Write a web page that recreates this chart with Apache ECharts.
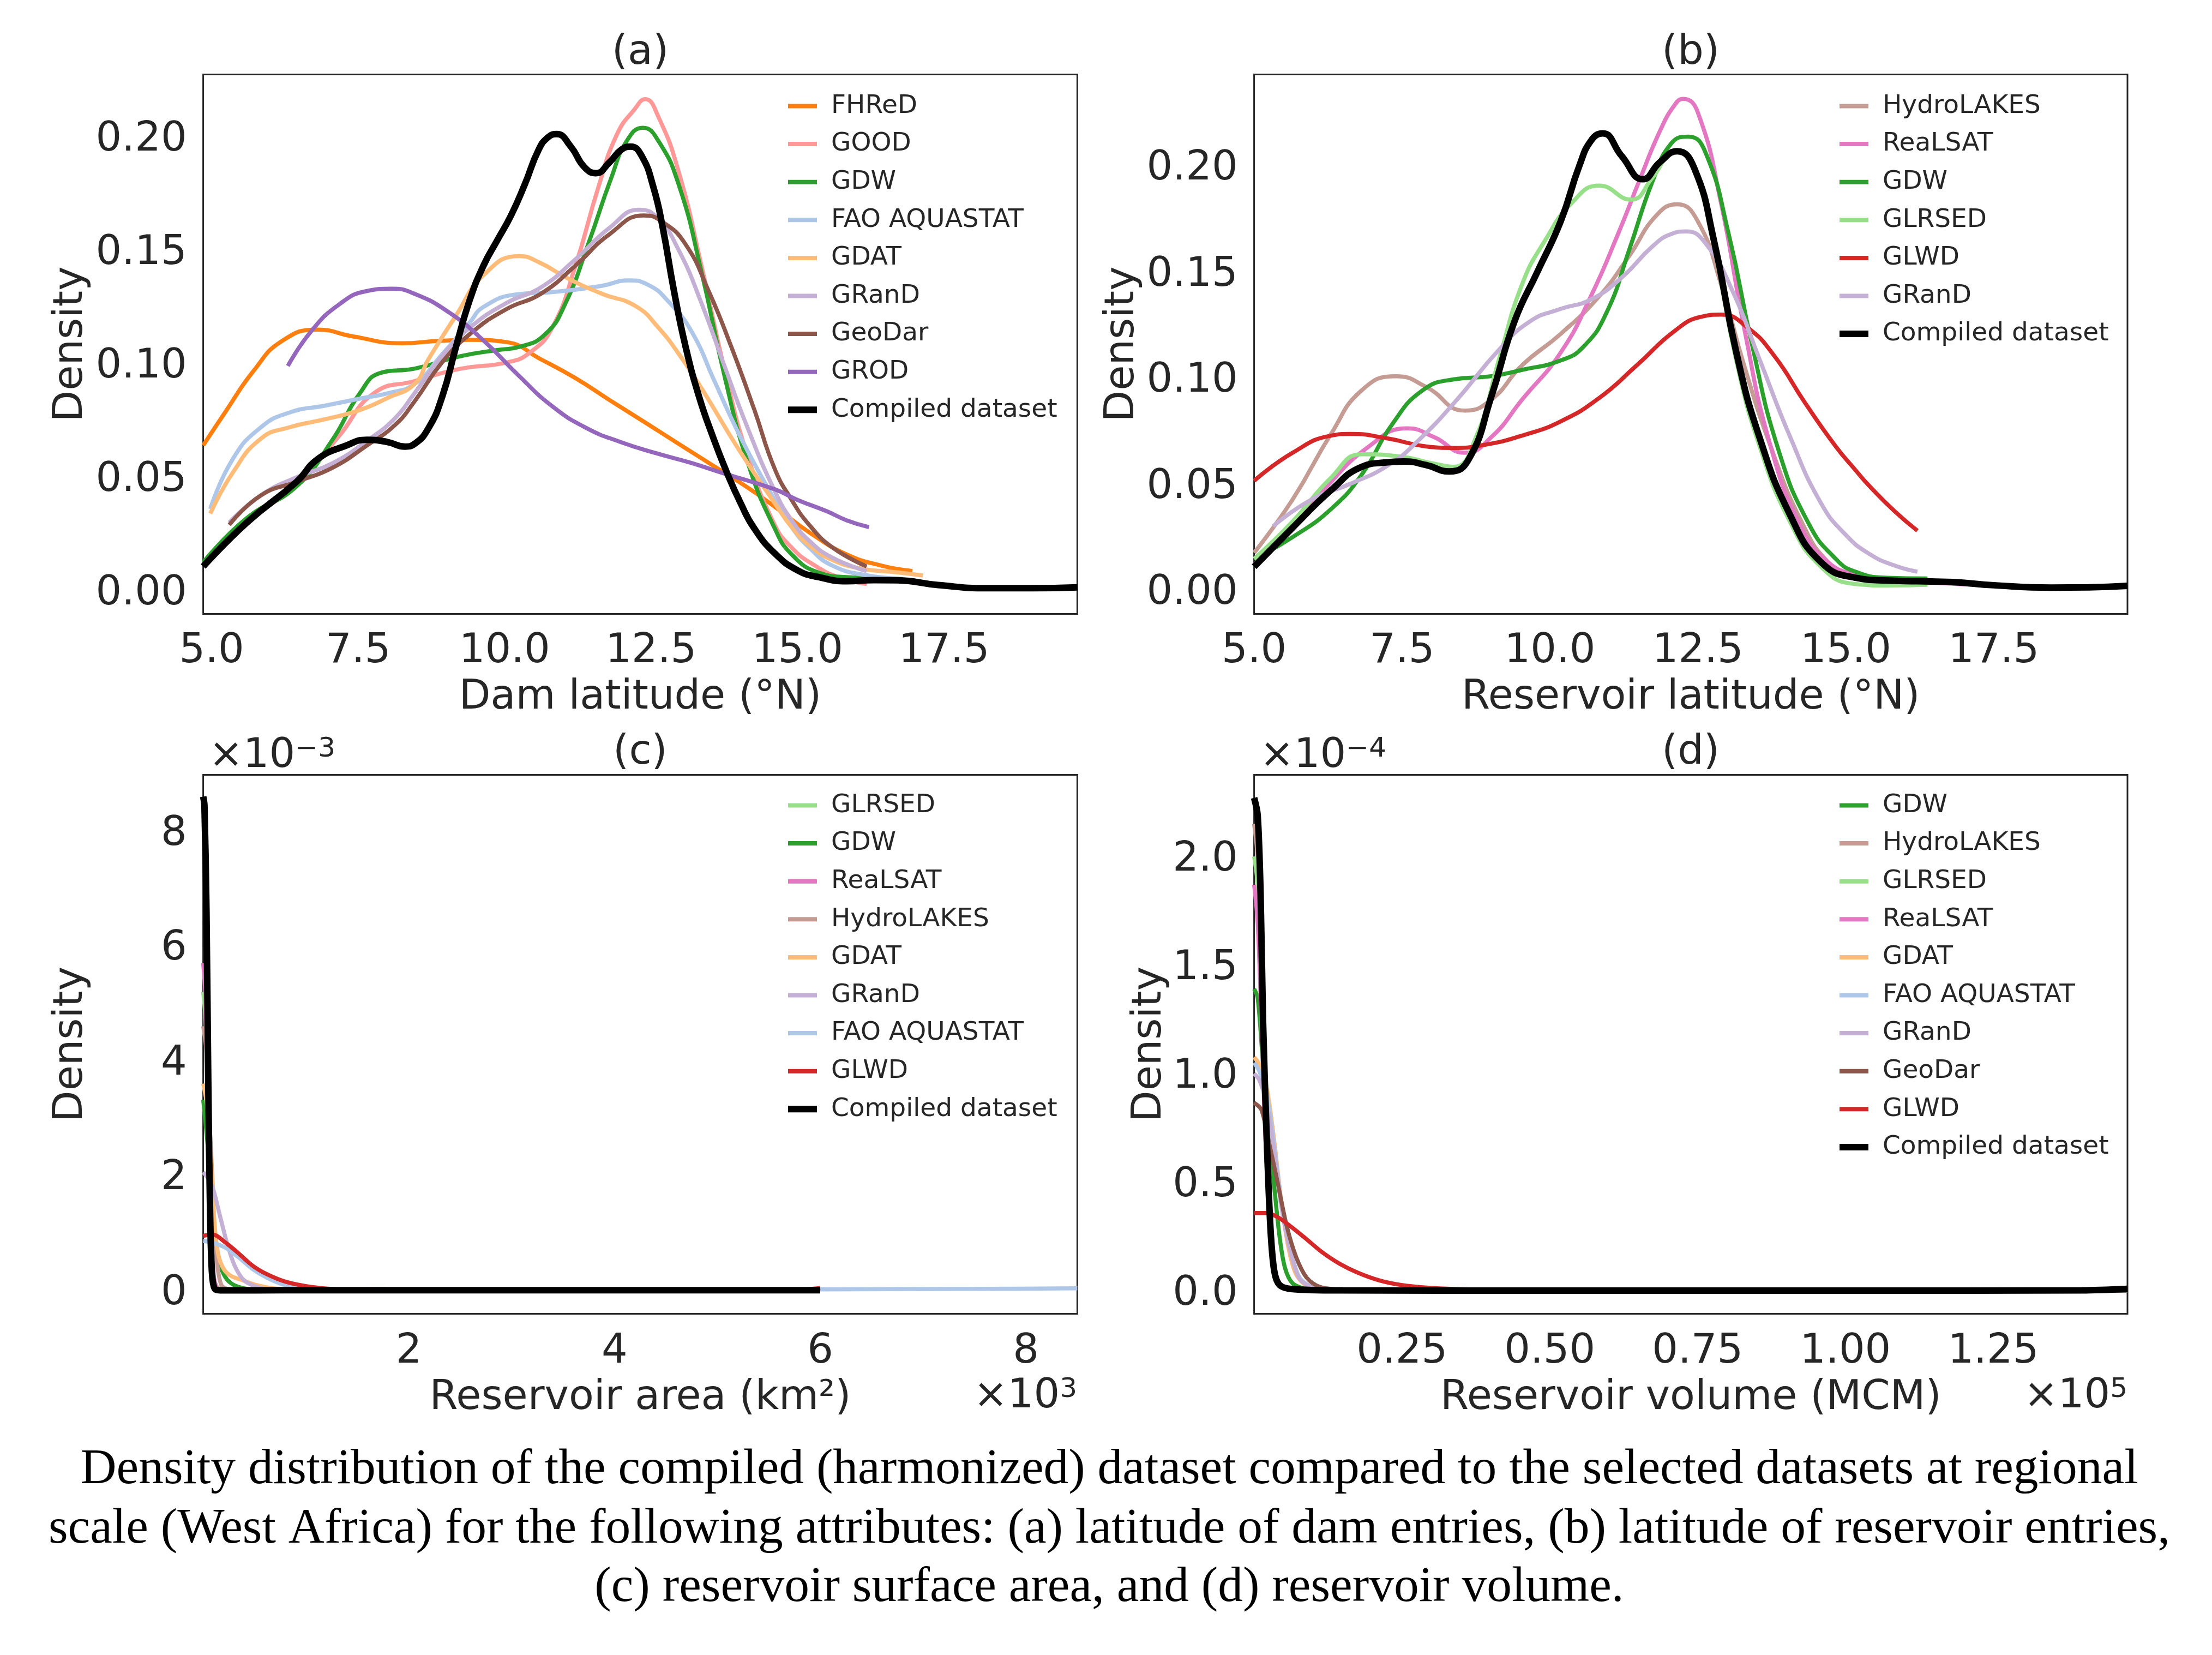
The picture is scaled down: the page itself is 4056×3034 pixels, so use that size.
<!DOCTYPE html>
<html>
<head>
<meta charset="utf-8">
<script src="https://cdn.jsdelivr.net/npm/echarts@6/dist/echarts.min.js"></script>
<style>
  html, body { margin: 0; padding: 0; background: #fff; }
  #chart { width: 4056px; height: 3034px; }
</style>
</head>
<body>
<div id="chart"></div>
<script>
// ---- (a) dam latitude, [lat °N, density] ----
const damFHReD = [[4.855,0.064],[5.24,0.079],[5.72,0.097],[6.2,0.110],[6.81,0.115],[7.41,0.112],[8.25,0.109],[8.85,0.110],[9.44,0.1105],[10.03,0.1095],[10.62,0.1019],[11.21,0.0936],[11.79,0.084],[12.38,0.0744],[12.97,0.0647],[13.56,0.0551],[14.15,0.0454],[14.61,0.037],[15.24,0.025],[15.84,0.016],[16.44,0.011],[16.96,0.0087]];
const damGOOD = [[4.855,0.011],[5.6,0.030],[6.45,0.047],[7.17,0.068],[7.77,0.087],[8.46,0.0923],[9.25,0.0978],[10.03,0.1005],[10.42,0.1047],[10.81,0.1157],[11.21,0.1432],[11.6,0.1777],[11.92,0.2011],[12.22,0.2121],[12.4,0.2165],[12.62,0.209],[12.97,0.1846],[13.36,0.1432],[13.75,0.0978],[14.15,0.0592],[14.61,0.029],[14.9,0.019],[15.24,0.012],[15.72,0.0057],[16.18,0.003]];
const damGDW = [[4.855,0.0125],[5.6,0.032],[6.45,0.046],[7.05,0.066],[7.53,0.087],[7.89,0.096],[8.46,0.0978],[9.25,0.1033],[9.87,0.106],[10.25,0.1074],[10.69,0.1129],[11.04,0.1267],[11.43,0.1529],[11.82,0.1818],[12.09,0.1983],[12.36,0.2039],[12.62,0.1983],[12.97,0.179],[13.36,0.1405],[13.75,0.095],[14.15,0.0564],[14.61,0.0275],[14.9,0.016],[15.36,0.008],[15.84,0.006],[16.18,0.0057]];
const damFAO = [[4.976,0.036],[5.36,0.058],[5.84,0.072],[6.33,0.0785],[6.93,0.0815],[7.53,0.0846],[8.01,0.087],[8.46,0.091],[8.93,0.104],[9.4,0.118],[9.64,0.125],[10.2,0.1305],[10.81,0.1315],[11.66,0.1343],[12.12,0.1367],[12.43,0.135],[12.82,0.1267],[13.22,0.1129],[13.56,0.0936],[14.03,0.0675],[14.61,0.040],[14.9,0.028],[15.2,0.019],[15.6,0.011],[16.2,0.0067],[16.8,0.0053]];
const damGDAT = [[4.976,0.034],[5.36,0.052],[5.84,0.067],[6.33,0.072],[6.93,0.0755],[7.53,0.0796],[8.01,0.085],[8.46,0.091],[8.7,0.102],[9.17,0.1212],[9.64,0.139],[10.25,0.1474],[10.6,0.1445],[11.07,0.1377],[11.66,0.1308],[12.24,0.1253],[12.63,0.1157],[13.0,0.1033],[13.39,0.088],[13.97,0.0633],[14.61,0.0386],[14.9,0.028],[15.2,0.020],[15.6,0.0135],[16.1,0.0097],[16.7,0.0081],[17.14,0.0067]];
const damGRanD = [[5.3,0.030],[5.84,0.042],[6.45,0.050],[7.05,0.056],[7.65,0.066],[8.13,0.076],[8.46,0.0869],[8.93,0.1033],[9.4,0.1157],[10.03,0.1267],[10.62,0.1336],[11.21,0.146],[11.79,0.1598],[12.3,0.1678],[12.62,0.1639],[12.97,0.1501],[13.36,0.1267],[13.75,0.0992],[14.15,0.0716],[14.61,0.044],[14.9,0.031],[15.2,0.022],[15.6,0.0145],[16.18,0.0087]];
const damGeoDar = [[5.3,0.029],[5.84,0.042],[6.45,0.048],[7.05,0.054],[7.65,0.064],[8.13,0.073],[8.46,0.0833],[8.93,0.1005],[9.4,0.1129],[10.03,0.124],[10.62,0.1308],[11.21,0.1432],[11.79,0.157],[12.38,0.1653],[12.69,0.1625],[13.08,0.1529],[13.48,0.1322],[13.87,0.1074],[14.26,0.0799],[14.61,0.0537],[14.9,0.040],[15.2,0.029],[15.6,0.019],[16.18,0.0107]];
const damGROD = [[6.3,0.099],[6.69,0.114],[7.17,0.126],[7.65,0.132],[8.07,0.133],[8.46,0.1308],[9.05,0.1226],[9.64,0.1102],[10.23,0.095],[10.81,0.0813],[11.4,0.0716],[11.99,0.0654],[12.58,0.0606],[13.17,0.0564],[13.75,0.0516],[14.61,0.0447],[15.0,0.040],[15.5,0.035],[15.84,0.031],[16.22,0.028]];
const damCompiled = [[4.855,0.0107],[5.6,0.030],[6.45,0.048],[6.81,0.058],[7.3,0.064],[7.65,0.0665],[8.0,0.0655],[8.3,0.0635],[8.464,0.0647],[8.7,0.0716],[8.934,0.0854],[9.17,0.1074],[9.404,0.128],[9.64,0.1432],[9.874,0.1543],[10.11,0.1653],[10.345,0.179],[10.58,0.1942],[10.74,0.1997],[10.89,0.2011],[11.13,0.1956],[11.36,0.1866],[11.56,0.1839],[11.79,0.1887],[11.99,0.1942],[12.15,0.1956],[12.34,0.1915],[12.54,0.1777],[12.7,0.1598],[12.89,0.1322],[13.09,0.1074],[13.32,0.0854],[13.56,0.0675],[13.79,0.0523],[14.03,0.0385],[14.26,0.0275],[14.61,0.0165],[15.0,0.009],[15.36,0.006],[15.84,0.0042],[16.3,0.0047],[16.7,0.0046],[17.4,0.0025],[18.25,0.0011],[19.0,0.0011],[19.776,0.0015]];

// ---- (b) reservoir latitude ----
const resHydroLAKES = [[5.0,0.0176],[5.65,0.0427],[6.3,0.0736],[6.82,0.0942],[7.4,0.1008],[7.91,0.0957],[8.56,0.0846],[9.01,0.0898],[9.53,0.106],[10.18,0.1207],[10.83,0.1384],[11.34,0.1575],[11.8,0.1766],[12.15,0.1818],[12.5,0.1737],[12.89,0.1442],[13.28,0.106],[13.73,0.0677],[14.25,0.0323],[14.7,0.0132],[15.15,0.0059],[15.7,0.0042],[16.2,0.0035]];
const resReaLSAT = [[5.0,0.012],[5.6,0.029],[6.17,0.0471],[6.94,0.0677],[7.59,0.0762],[8.04,0.0721],[8.56,0.0647],[9.01,0.0721],[9.53,0.0898],[10.18,0.1119],[10.69,0.1384],[11.15,0.1678],[11.53,0.1943],[11.86,0.2164],[12.11,0.2287],[12.25,0.2315],[12.5,0.225],[12.89,0.1825],[13.28,0.1237],[13.73,0.0677],[14.25,0.0294],[14.7,0.0132],[15.15,0.0074],[15.7,0.0048],[16.2,0.004],[17.5,0.002],[18.5,0.001],[19.76,0.0018]];
const resGDW = [[5.0,0.0147],[5.65,0.025],[6.3,0.0382],[6.82,0.0545],[7.33,0.078],[7.85,0.0942],[8.37,0.0993],[9.01,0.1008],[9.53,0.1038],[10.18,0.1082],[10.57,0.1148],[10.96,0.131],[11.34,0.1604],[11.73,0.1924],[12.05,0.2105],[12.34,0.2137],[12.63,0.2061],[13.02,0.1678],[13.41,0.1163],[13.86,0.0662],[14.38,0.0309],[14.83,0.0147],[15.15,0.0088],[15.7,0.0058],[16.38,0.0055]];
const resGLRSED = [[5.0,0.0147],[5.65,0.0323],[6.3,0.053],[6.82,0.064],[7.46,0.063],[8.04,0.0596],[8.37,0.0581],[8.75,0.0721],[9.14,0.1089],[9.53,0.1442],[9.92,0.1649],[10.37,0.1825],[10.83,0.1906],[11.37,0.184],[11.73,0.1943],[12.05,0.2061],[12.2,0.207],[12.44,0.198],[12.77,0.162],[13.15,0.108],[13.54,0.068],[14.06,0.032],[14.58,0.011],[15.15,0.0029],[15.7,0.0022],[16.38,0.0025]];
const resGLWD = [[5.0,0.0515],[5.65,0.0647],[6.3,0.0728],[6.62,0.0736],[7.27,0.0714],[7.91,0.0677],[8.37,0.067],[8.88,0.0684],[9.53,0.0728],[10.18,0.0795],[10.83,0.0905],[11.47,0.106],[12.11,0.1222],[12.56,0.1288],[12.89,0.1298],[13.34,0.1237],[13.79,0.1104],[14.31,0.0883],[14.83,0.0677],[15.15,0.057],[15.4,0.049],[15.83,0.037],[16.21,0.028]];
const resGRanD = [[5.32,0.0301],[5.97,0.0427],[6.62,0.05],[7.27,0.0589],[7.78,0.0706],[8.43,0.0898],[9.14,0.1133],[9.66,0.1266],[10.18,0.1325],[10.69,0.1369],[11.21,0.1472],[11.73,0.1619],[12.05,0.1678],[12.3,0.169],[12.63,0.1634],[13.08,0.1413],[13.54,0.1089],[14.06,0.0721],[14.58,0.041],[15.0,0.026],[15.4,0.017],[15.83,0.0115],[16.21,0.0087]];
const resCompiled = [[5.0,0.011],[5.65,0.0294],[6.3,0.0471],[6.82,0.0581],[7.2,0.0601],[7.53,0.0606],[7.91,0.0589],[8.3,0.0559],[8.63,0.0618],[9.01,0.0913],[9.4,0.1266],[9.79,0.1501],[10.18,0.1737],[10.5,0.2002],[10.7,0.212],[10.89,0.2152],[11.21,0.2046],[11.57,0.1936],[11.86,0.2017],[12.15,0.2068],[12.44,0.1987],[12.77,0.1649],[13.15,0.1119],[13.54,0.0721],[14.06,0.0353],[14.58,0.0132],[15.15,0.0059],[15.7,0.0045],[16.2,0.0042],[16.8,0.0038],[17.5,0.0023],[18.47,0.0012],[19.1,0.0013],[19.76,0.002]];

// ---- (c) reservoir area, x in 10^3 km2, density in 10^-3 ----
const areaGLRSED = [[0,5.2],[0.02,4.8],[0.04,3.6],[0.06,2.0],[0.08,0.8],[0.1,0.25],[0.14,0.05],[0.25,0.01],[1,0.003],[6,0.002]];
const areaGDW = [[0,3.32],[0.041,2.58],[0.076,1.66],[0.11,0.86],[0.165,0.43],[0.235,0.18],[0.34,0.06],[0.52,0.01],[1,0.003],[6,0.002]];
const areaReaLSAT = [[0,5.7],[0.02,5.2],[0.04,3.8],[0.06,2.2],[0.08,0.9],[0.1,0.3],[0.13,0.06],[0.2,0.01],[1,0.002],[6,0.002]];
const areaHydroLAKES = [[0,4.6],[0.03,4.2],[0.06,3.0],[0.09,1.9],[0.11,1.0],[0.14,0.4],[0.18,0.08],[0.25,0.02],[0.5,0.005],[6,0.002]];
const areaGDAT = [[0,3.6],[0.04,3.2],[0.076,2.28],[0.11,1.17],[0.147,0.62],[0.2,0.37],[0.27,0.25],[0.377,0.18],[0.52,0.09],[0.7,0.03],[1.0,0.01],[1.4,0.005],[1.65,0.02],[1.78,0.025]];
const areaGRanD = [[0,2.06],[0.04,1.97],[0.094,1.78],[0.164,1.29],[0.235,0.8],[0.306,0.43],[0.394,0.18],[0.52,0.06],[0.66,0.01],[1,0.003],[6,0.002]];
const areaFAO = [[0,0.86],[0.094,0.83],[0.218,0.74],[0.34,0.58],[0.48,0.37],[0.62,0.22],[0.8,0.09],[1.05,0.03],[1.5,0.01],[3,0.005],[6,0.016],[7.5,0.025],[8.5,0.035]];
const areaGLWD = [[0,0.95],[0.094,0.97],[0.218,0.83],[0.34,0.65],[0.48,0.43],[0.62,0.28],[0.8,0.15],[1.05,0.06],[1.4,0.01],[2,0.003],[4,0.002],[5.8,0.01],[6,0.04]];
const areaCompiled = [[0,8.6],[0.012,8.45],[0.032,6.58],[0.05,3.5],[0.067,1.35],[0.085,0.31],[0.111,0.03],[0.165,0.0],[0.5,0.0],[1,0.003],[2,0.002],[3,0.002],[4,0.002],[5,0.002],[6,0.003]];

// ---- (d) reservoir volume, x in 10^5 MCM, density in 10^-4 ----
const volGDW = [[0,1.39],[0.006,1.35],[0.0138,1.09],[0.023,0.77],[0.034,0.48],[0.043,0.25],[0.052,0.108],[0.065,0.035],[0.09,0.008],[0.15,0.002],[1.477,0.001]];
const volHydroLAKES = [[0,2.15],[0.006,2.0],[0.011,1.65],[0.016,1.1],[0.022,0.6],[0.028,0.25],[0.035,0.08],[0.045,0.02],[0.07,0.004],[1.477,0.001]];
const volGLRSED = [[0,2.0],[0.005,1.9],[0.01,1.6],[0.015,1.1],[0.02,0.65],[0.026,0.3],[0.033,0.1],[0.045,0.02],[0.08,0.003],[1.477,0.001]];
const volReaLSAT = [[0,1.87],[0.006,1.7],[0.0123,1.25],[0.018,0.77],[0.026,0.37],[0.034,0.124],[0.043,0.035],[0.058,0.008],[0.1,0.001],[1.477,0.001]];
const volGDAT = [[0,1.076],[0.009,1.04],[0.0215,0.93],[0.034,0.69],[0.046,0.41],[0.058,0.2],[0.071,0.076],[0.09,0.02],[0.11,0.003],[1.477,0.001]];
const volFAO = [[0,1.05],[0.009,1.01],[0.0215,0.9],[0.034,0.67],[0.046,0.41],[0.0615,0.19],[0.077,0.06],[0.1,0.015],[0.13,0.003],[1.477,0.001]];
const volGRanD = [[0,1.0],[0.009,0.97],[0.0215,0.86],[0.034,0.64],[0.046,0.39],[0.0615,0.18],[0.077,0.055],[0.1,0.014],[0.13,0.003],[1.477,0.001]];
const volGeoDar = [[0,0.866],[0.0123,0.834],[0.0246,0.69],[0.04,0.495],[0.055,0.30],[0.071,0.156],[0.089,0.06],[0.11,0.019],[0.141,0.006],[0.19,0.001],[1.477,0.001]];
const volGLWD = [[0,0.358],[0.0215,0.358],[0.043,0.334],[0.065,0.29],[0.089,0.237],[0.114,0.18],[0.145,0.124],[0.175,0.084],[0.212,0.048],[0.249,0.027],[0.295,0.0145],[0.372,0.006],[0.5,0.003],[1.0,0.002],[1.4,0.004],[1.477,0.015]];
const volCompiled = [[0,2.27],[0.006,2.19],[0.011,1.82],[0.015,1.25],[0.0215,0.69],[0.0277,0.285],[0.034,0.092],[0.043,0.027],[0.065,0.008],[0.15,0.002],[0.5,0.001],[1.0,0.001],[1.4,0.002],[1.477,0.009]];

const captionLines = [
  'Density distribution of the compiled (harmonized) dataset compared to the selected datasets at regional',
  'scale (West Africa) for the following attributes: (a) latitude of dam entries, (b) latitude of reservoir entries,',
  '(c) reservoir surface area, and (d) reservoir volume.'
];

const colors = {
  'FHReD': '#ff7f0e', 'GOOD': '#ff9896', 'GDW': '#2ca02c', 'FAO AQUASTAT': '#aec7e8',
  'GDAT': '#ffbb78', 'GRanD': '#c5b0d5', 'GeoDar': '#8c564b', 'GROD': '#9467bd',
  'HydroLAKES': '#c49c94', 'ReaLSAT': '#e377c2', 'GLRSED': '#98df8a', 'GLWD': '#d62728',
  'Compiled dataset': '#000000'
};

const panels = [
  { smooth: 0.5, series: [['FHReD', damFHReD], ['GOOD', damGOOD], ['GDW', damGDW], ['FAO AQUASTAT', damFAO], ['GDAT', damGDAT],
             ['GRanD', damGRanD], ['GeoDar', damGeoDar], ['GROD', damGROD], ['Compiled dataset', damCompiled]] },
  { smooth: 0.5, series: [['HydroLAKES', resHydroLAKES], ['ReaLSAT', resReaLSAT], ['GDW', resGDW], ['GLRSED', resGLRSED],
             ['GLWD', resGLWD], ['GRanD', resGRanD], ['Compiled dataset', resCompiled]] },
  { smooth: 0.3, series: [['GLRSED', areaGLRSED], ['GDW', areaGDW], ['ReaLSAT', areaReaLSAT], ['HydroLAKES', areaHydroLAKES],
             ['GDAT', areaGDAT], ['GRanD', areaGRanD], ['FAO AQUASTAT', areaFAO], ['GLWD', areaGLWD], ['Compiled dataset', areaCompiled]] },
  { smooth: 0.3, series: [['GDW', volGDW], ['HydroLAKES', volHydroLAKES], ['GLRSED', volGLRSED], ['ReaLSAT', volReaLSAT],
             ['GDAT', volGDAT], ['FAO AQUASTAT', volFAO], ['GRanD', volGRanD], ['GeoDar', volGeoDar], ['GLWD', volGLWD], ['Compiled dataset', volCompiled]] }
];

const FONT = 'DejaVu Sans';
const TXT = '#262626';

const grids = [
  { left: 372.6, top: 136.4, width: 1602.8, height: 989 },
  { left: 2299.6, top: 136.4, width: 1601.4, height: 989 },
  { left: 372.6, top: 1420.4, width: 1602.8, height: 988.2 },
  { left: 2299.6, top: 1420.4, width: 1601.4, height: 988.2 }
].map(g => Object.assign(g, { show: true, borderColor: '#262626', borderWidth: 3, backgroundColor: 'transparent' }));

function xAxis(i, min, max, step, name, fmt, showMin) {
  return {
    type: 'value', gridIndex: i, min: min, max: max, minInterval: step, maxInterval: step, splitNumber: 6,
    name: name, nameLocation: 'middle', nameGap: 117,
    nameTextStyle: { fontFamily: FONT, fontSize: 75, color: TXT },
    axisLine: { show: false }, axisTick: { show: false }, splitLine: { show: false },
    axisLabel: { fontFamily: FONT, fontSize: 75, color: TXT, margin: 32, formatter: fmt,
                 showMinLabel: !!showMin, showMaxLabel: false }
  };
}
function yAxis(i, min, max, step, gap, fmt) {
  return {
    type: 'value', gridIndex: i, min: min, max: max, minInterval: step, maxInterval: step, splitNumber: 5,
    name: 'Density', nameLocation: 'middle', nameGap: gap,
    nameTextStyle: { fontFamily: FONT, fontSize: 75, color: TXT },
    axisLine: { show: false }, axisTick: { show: false }, splitLine: { show: false },
    axisLabel: { fontFamily: FONT, fontSize: 75, color: TXT, margin: 30, formatter: fmt,
                 verticalAlign: 'top', lineHeight: 12, showMinLabel: false, showMaxLabel: false }
  };
}

const series = [];
panels.forEach((p, i) => {
  p.series.forEach(([name, data]) => {
    const black = name === 'Compiled dataset';
    series.push({
      type: 'line', name: name, xAxisIndex: i, yAxisIndex: i, data: data,
      symbol: 'none', smooth: p.smooth,
      lineStyle: { color: colors[name], width: black ? 12 : 7.5 },
      itemStyle: { color: colors[name] },
      z: black ? 3 : 2
    });
  });
});

const legendPos = [[1445, 171], [3373, 171], [1445, 1453], [3373, 1453]];
const legends = panels.map((p, i) => ({
  orient: 'vertical', left: legendPos[i][0], top: legendPos[i][1], padding: 0,
  data: p.series.map(s => ({
    name: s[0],
    icon: s[0] === 'Compiled dataset' ? 'path://M0,0H53V12H0Z' : 'path://M0,0H53V8H0Z'
  })),
  itemWidth: 53, itemHeight: 12, itemGap: 22.6, symbolKeepAspect: true,
  selectedMode: false,
  textStyle: { fontFamily: FONT, fontSize: 47, lineHeight: 47, color: TXT, padding: [0, 0, 0, 21] }
}));

function label(x, y, txt, align) {
  return { type: 'text', x: x, y: y, silent: true,
    style: { text: txt, font: '75px "DejaVu Sans"', fill: TXT, align: align || 'center', verticalAlign: 'middle' } };
}
function sci(x, y, base, exp, align) {
  return { type: 'text', x: x, y: y, silent: true,
    style: { text: '{m|' + base + '}{s|' + exp + '}', align: align, verticalAlign: 'top',
      rich: { m: { fontFamily: FONT, fontSize: 75, lineHeight: 75, fill: TXT, color: TXT },
              s: { fontFamily: FONT, fontSize: 50, lineHeight: 36, verticalAlign: 'top', fill: TXT, color: TXT } } } };
}

const graphics = [
  label(1174, 98, '(a)'), label(3100, 98, '(b)'), label(1174, 1381, '(c)'), label(3100, 1381, '(d)'),
  sci(383, 1349, '×10', '−3', 'left'), sci(2310, 1349, '×10', '−4', 'left'),
  sci(1975, 2523, '×10', '3', 'right'), sci(3901, 2523, '×10', '5', 'right')
];
const capY = [2695, 2804, 2911];
captionLines.forEach((t, k) => {
  graphics.push({ type: 'text', x: 2034, y: capY[k], silent: true,
    style: { text: t, font: '91.5px "Liberation Serif"', fill: '#000', align: 'center', verticalAlign: 'middle' } });
});

const chart = echarts.init(document.getElementById('chart'), null, { renderer: 'canvas' });
chart.setOption({
  animation: false,
  backgroundColor: '#fff',
  grid: grids,
  xAxis: [
    xAxis(0, 4.855, 19.776, 2.5, 'Dam latitude (°N)', v => v.toFixed(1), false),
    xAxis(1, 5.0, 19.76, 2.5, 'Reservoir latitude (°N)', v => v.toFixed(1), true),
    xAxis(2, 0, 8.5, 2, 'Reservoir area (km²)', v => String(v), false),
    xAxis(3, 0, 1.477, 0.25, 'Reservoir volume (MCM)', v => v.toFixed(2), false)
  ],
  yAxis: [
    yAxis(0, -0.0102, 0.2274, 0.05, 205, v => v.toFixed(2)),
    yAxis(1, -0.0112, 0.243, 0.05, 204, v => v.toFixed(2)),
    yAxis(2, -0.41, 8.98, 2, 205, v => String(v)),
    yAxis(3, -0.106, 2.376, 0.5, 153, v => v.toFixed(1))
  ],
  legend: legends,
  series: series,
  graphic: graphics
});
</script>
</body>
</html>
